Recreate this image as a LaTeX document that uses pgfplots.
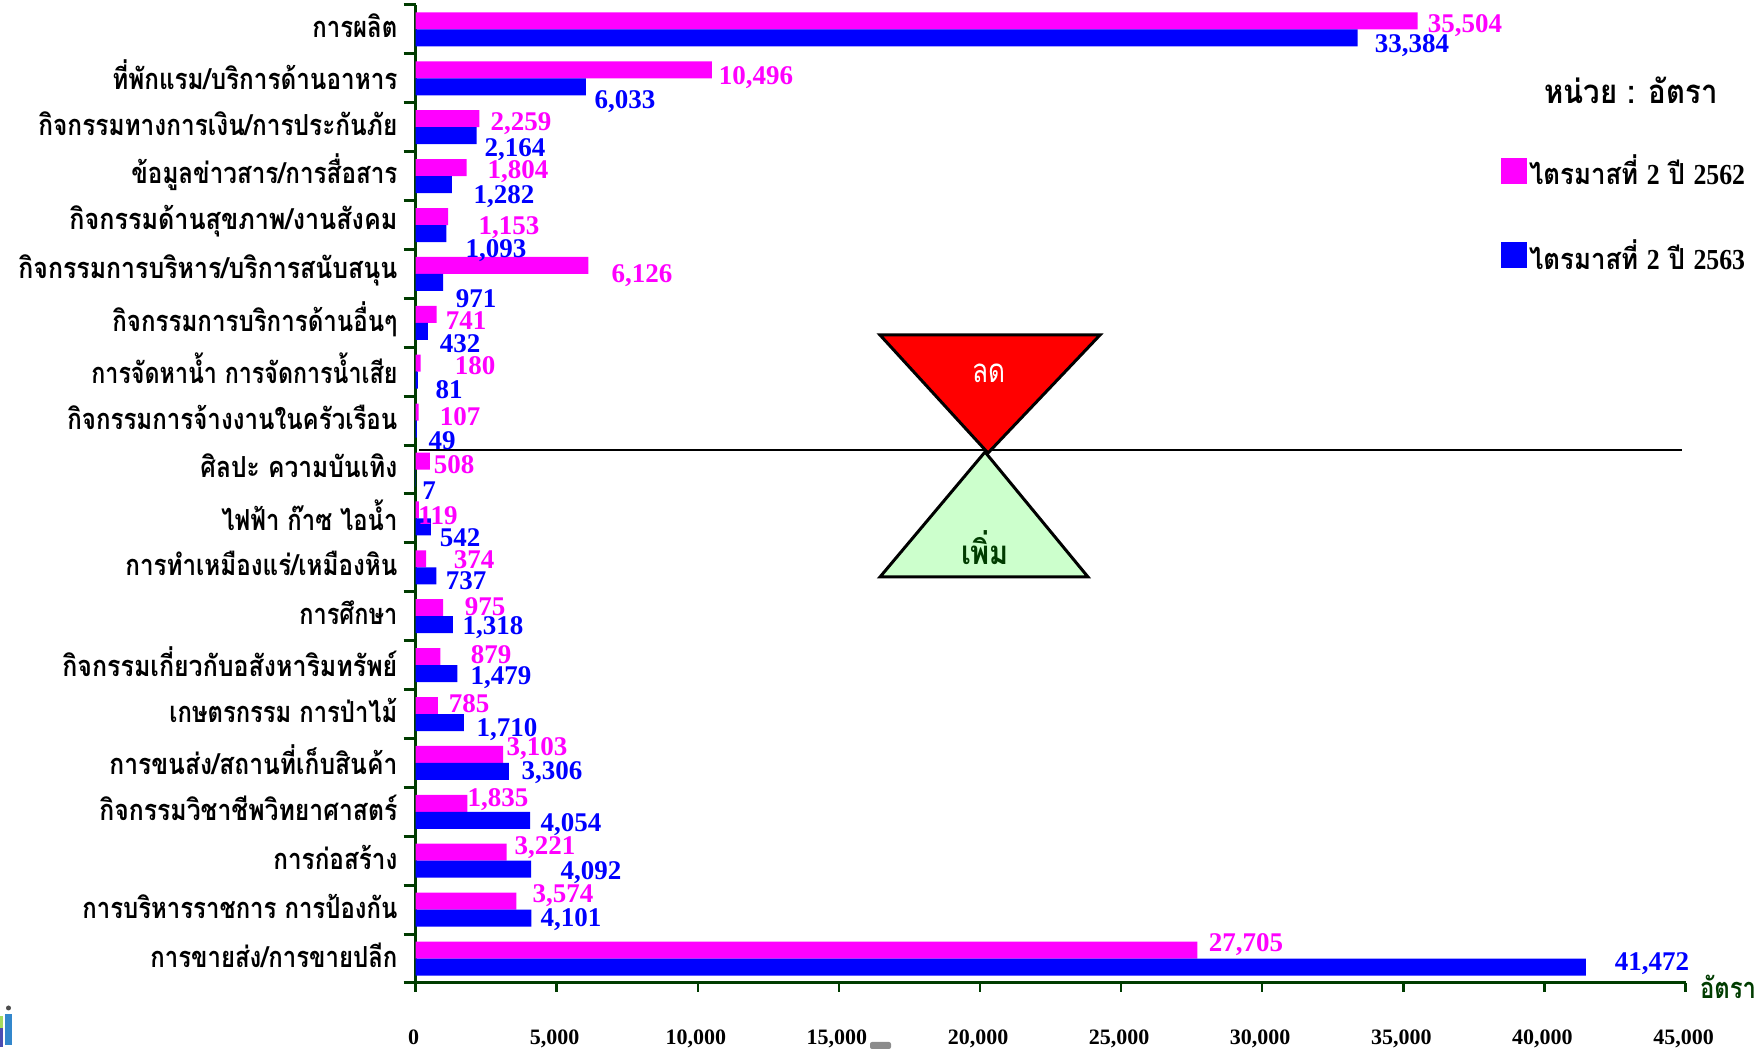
\documentclass[border=0pt]{standalone}
\usepackage{pgfplots}
\pgfplotsset{compat=1.18}
\usepackage{fontspec}
\setmainfont{Liberation Serif}
\newfontfamily\thaifont[Script=Thai]{Loma}
\definecolor{mg}{RGB}{255,0,255}
\definecolor{bl}{RGB}{0,0,255}
\definecolor{dg}{RGB}{0,60,0}
\definecolor{lg}{RGB}{204,255,204}
\newsavebox\fitbox
\newcommand\fitw[2]{\sbox\fitbox{#2}\pgfmathsetmacro\fitr{#1/\the\wd\fitbox}\scalebox{\fitr}[1]{\usebox\fitbox}}
\newcommand\thl[2]{\fitw{#1}{\fontsize{29}{29}\selectfont\thaifont\bfseries #2}}
\newcommand\num[4]{\node[text=#4,font=\fontsize{27}{27}\selectfont\bfseries,inner sep=0pt] at (#1,#2+2) {#3};}
\begin{document}
\begin{tikzpicture}[x=1pt,y=1pt]
\path[use as bounding box] (0pt,0pt) rectangle (1762pt,1049pt);
\begin{axis}[
  at={(415.6pt,66pt)},anchor=south west,width=1270pt,height=978pt,scale only axis,
  xmin=0,xmax=45000,ymin=-0.5,ymax=19.5,
  axis x line*=bottom,axis y line*=left,
  axis line style={dg,line width=3pt,-},
  xtick={0,5000,...,45000},
  tick align=outside,
  xtick style={dg,line width=2.5pt},
  major tick length=9pt,
  ytick={0,...,19},
  minor ytick={-0.5,0.5,...,19.5},
  major y tick style={draw=none},
  minor y tick style={dg,line width=3pt},
  minor tick length=12pt,
  yticklabels={
   \thl{247}{การขายส่ง/การขายปลีก},
   \thl{315}{การบริหารราชการ การป้องกัน},
   \thl{124}{การก่อสร้าง},
   \thl{298}{กิจกรรมวิชาชีพวิทยาศาสตร์},
   \thl{288}{การขนส่ง/สถานที่เก็บสินค้า},
   \thl{228}{เกษตรกรรม การป่าไม้},
   \thl{335}{กิจกรรมเกี่ยวกับอสังหาริมทรัพย์},
   \thl{98}{การศึกษา},
   \thl{272}{การทำเหมืองแร่/เหมืองหิน},
   \thl{176}{ไฟฟ้า ก๊าซ ไอน้ำ},
   \thl{197}{ศิลปะ ความบันเทิง},
   \thl{330}{กิจกรรมการจ้างงานในครัวเรือน},
   \thl{306}{การจัดหาน้ำ การจัดการน้ำเสีย},
   \thl{285}{กิจกรรมการบริการด้านอื่นๆ},
   \thl{379}{กิจกรรมการบริหาร/บริการสนับสนุน},
   \thl{328}{กิจกรรมด้านสุขภาพ/งานสังคม},
   \thl{266}{ข้อมูลข่าวสาร/การสื่อสาร},
   \thl{359}{กิจกรรมทางการเงิน/การประกันภัย},
   \thl{285}{ที่พักแรม/บริการด้านอาหาร},
   \thl{85}{การผลิต}},
  yticklabel style={anchor=east,inner sep=0pt,xshift=-9pt,yshift=3.5pt},
  xticklabel style={font=\fontsize{22}{22}\selectfont\bfseries,yshift=-34pt,xshift=-2pt},
  /pgf/number format/assume math mode=true,
  /pgf/number format/1000 sep={,},
  scaled x ticks=false,
  xbar=0pt,bar width=17pt,
  clip=false,
  legend image code/.code={\path[#1] (0pt,-13pt) rectangle (26pt,13pt);},
  legend style={at={(0.8546,0.849)},anchor=north west,draw=none,fill=none,inner sep=0pt,
    /tikz/every even column/.append style={column sep=17pt},row sep=49pt,font=\fontsize{26}{26}\selectfont\bfseries},
  legend cell align=left,
]
\addplot[draw=none,fill=mg,bar shift=8.5pt] coordinates {
(27705,0)(3574,1)(3221,2)(1835,3)(3103,4)(785,5)(879,6)(975,7)(374,8)(119,9)(508,10)(107,11)(180,12)(741,13)(6126,14)(1153,15)(1804,16)(2259,17)(10496,18)(35504,19)};
\addlegendentry{\fitw{216}{\fontsize{29}{29}\selectfont\thaifont\bfseries ไตรมาสที่ {\rmfamily 2} ปี {\rmfamily 2562}}}
\addplot[draw=none,fill=bl,bar shift=-8.5pt] coordinates {
(41472,0)(4101,1)(4092,2)(4054,3)(3306,4)(1710,5)(1479,6)(1318,7)(737,8)(542,9)(7,10)(49,11)(81,12)(432,13)(971,14)(1093,15)(1282,16)(2164,17)(6033,18)(33384,19)};
\addlegendentry{\fitw{216}{\fontsize{29}{29}\selectfont\thaifont\bfseries ไตรมาสที่ {\rmfamily 2} ปี {\rmfamily 2563}}}
\end{axis}
\begin{scope}[x=1pt,y=-1pt,yshift=1049pt]
\draw[black,line width=2.5pt] (419,450) -- (1682,450);
\draw[black,line width=3pt,fill=lg,line join=miter] (985,452) -- (880,577) -- (1088,577) -- cycle;
\draw[black,line width=3pt,fill=red,line join=miter] (880,335) -- (1100,335) -- (988,453) -- cycle;
\node[text=white,inner sep=0pt] at (989,373) {\fitw{33}{\fontsize{33}{33}\selectfont\thaifont ลด}};
\node[text=dg,inner sep=0pt] at (985,548) {\fitw{48}{\fontsize{33}{33}\selectfont\thaifont\bfseries เพิ่ม}};
\node[inner sep=0pt] at (1631,90) {\fitw{173}{\fontsize{33}{33}\selectfont\thaifont\bfseries หน่วย : อัตรา}};
\node[text=dg,inner sep=0pt] at (1728,987) {\fitw{56}{\fontsize{29}{29}\selectfont\thaifont\bfseries อัตรา}};
\num{1465}{24}{35,504}{mg}
\num{1412}{44}{33,384}{bl}
\num{756}{76}{10,496}{mg}
\num{625}{100}{6,033}{bl}
\num{521}{122}{2,259}{mg}
\num{515}{148}{2,164}{bl}
\num{518}{170}{1,804}{mg}
\num{504}{195}{1,282}{bl}
\num{509}{226}{1,153}{mg}
\num{496}{249}{1,093}{bl}
\num{642}{274}{6,126}{mg}
\num{476}{297}{971}{bl}
\num{466}{319}{741}{mg}
\num{460}{342}{432}{bl}
\num{475}{364}{180}{mg}
\num{449}{388}{81}{bl}
\num{460}{415}{107}{mg}
\num{442}{439}{49}{bl}
\num{454}{463}{508}{mg}
\num{429}{489}{7}{bl}
\num{438}{514}{119}{mg}
\num{460}{536}{542}{bl}
\num{474}{558}{374}{mg}
\num{466}{579}{737}{bl}
\num{485}{605}{975}{mg}
\num{493}{626}{1,318}{bl}
\num{491}{653}{879}{mg}
\num{501}{676}{1,479}{bl}
\num{469}{702}{785}{mg}
\num{507}{728}{1,710}{bl}
\num{537}{747}{3,103}{mg}
\num{552}{771}{3,306}{bl}
\num{498}{798}{1,835}{mg}
\num{571}{823}{4,054}{bl}
\num{545}{846}{3,221}{mg}
\num{591}{871}{4,092}{bl}
\num{563}{894}{3,574}{mg}
\num{571}{918}{4,101}{bl}
\num{1246}{943}{27,705}{mg}
\num{1652}{962}{41,472}{bl}
\fill[gray!90,rounded corners=2pt] (870,1042) rectangle (891,1049);
\fill[blue!45!cyan!60!gray] (5,1014) rectangle (12,1045);
\fill[black!70] (8.5,1008) circle (2.5);
\fill[yellow!50!green!70!white] (0,1016) rectangle (3,1028);
\fill[blue!40!gray] (0,1028) rectangle (3,1047);
\end{scope}
\end{tikzpicture}
\end{document}
